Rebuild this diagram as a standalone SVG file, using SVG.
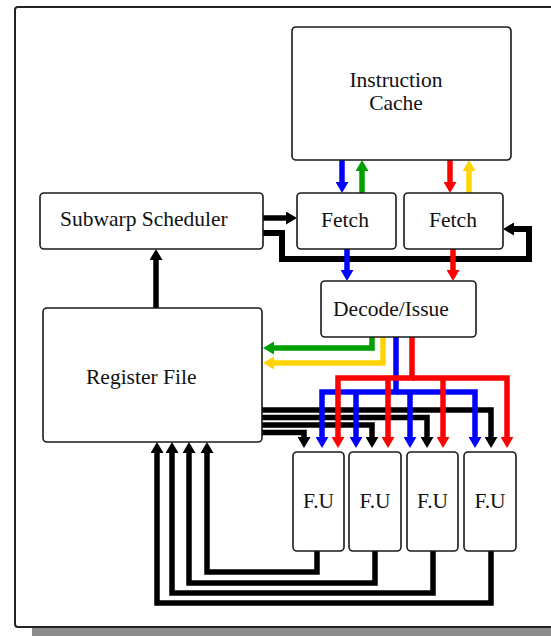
<svg xmlns="http://www.w3.org/2000/svg" width="551" height="636" viewBox="0 0 551 636">
  <style>
    .box { fill: #ffffff; stroke: #1a1a1a; stroke-width: 1.6; }
    .lbl { font-family: "Liberation Serif", "Times New Roman", serif; font-size: 21.5px; fill: #111111; }
    .mid { text-anchor: middle; }
    .w { fill: none; stroke-width: 5.5; stroke-linejoin: miter; stroke-linecap: butt; }
    .k { stroke: #000000; }
    .b { stroke: #0000ff; }
    .r { stroke: #ff0000; }
    .g { stroke: #00a000; }
    .y { stroke: #ffd400; }
  </style>
  <defs>
    <marker id="hk" viewBox="0 0 11 13" refX="0" refY="6.5" markerWidth="11" markerHeight="13" markerUnits="userSpaceOnUse" orient="auto"><path d="M0,0 L11,6.5 L0,13 z" fill="#000000"/></marker>
    <marker id="hb" viewBox="0 0 11 13" refX="0" refY="6.5" markerWidth="11" markerHeight="13" markerUnits="userSpaceOnUse" orient="auto"><path d="M0,0 L11,6.5 L0,13 z" fill="#0000ff"/></marker>
    <marker id="hr" viewBox="0 0 11 13" refX="0" refY="6.5" markerWidth="11" markerHeight="13" markerUnits="userSpaceOnUse" orient="auto"><path d="M0,0 L11,6.5 L0,13 z" fill="#ff0000"/></marker>
    <marker id="hg" viewBox="0 0 11 13" refX="0" refY="6.5" markerWidth="11" markerHeight="13" markerUnits="userSpaceOnUse" orient="auto"><path d="M0,0 L11,6.5 L0,13 z" fill="#00a000"/></marker>
    <marker id="hy" viewBox="0 0 11 13" refX="0" refY="6.5" markerWidth="11" markerHeight="13" markerUnits="userSpaceOnUse" orient="auto"><path d="M0,0 L11,6.5 L0,13 z" fill="#ffd400"/></marker>
  </defs>

  <!-- page frame with drop shadow -->
  <rect x="32" y="627" width="540" height="14" fill="#8c8c8c"/>
  <rect x="15" y="7" width="550" height="620" rx="3" fill="#ffffff" stroke="#222222" stroke-width="2"/>

  <g id="connectors">
    <!-- register file writeback from functional units -->
    <path class="w k" d="M491,551 V603 H157 V453" marker-end="url(#hk)"/>
    <path class="w k" d="M433,551 V593 H172 V453" marker-end="url(#hk)"/>
    <path class="w k" d="M375,551 V583 H189 V453" marker-end="url(#hk)"/>
    <path class="w k" d="M317,551 V572 H207 V453" marker-end="url(#hk)"/>

    <!-- register file operands to functional units -->
    <path class="w k" d="M262,410 H491 V437" marker-end="url(#hk)"/>
    <path class="w k" d="M262,417.5 H427 V437" marker-end="url(#hk)"/>
    <path class="w k" d="M262,425 H372 V437" marker-end="url(#hk)"/>
    <path class="w k" d="M262,432.5 H304 V437" marker-end="url(#hk)"/>

    <!-- scheduler paths -->
    <path class="w k" d="M156,308 V260" marker-end="url(#hk)"/>
    <path class="w k" d="M263,218 H286" marker-end="url(#hk)"/>
    <path class="w k" style="stroke-width:6" d="M263,233 H282 V259 H529 V229 H514" marker-end="url(#hk)"/>

    <!-- cache / fetch traffic -->
    <path class="w b" d="M342,160 V182" marker-end="url(#hb)"/>
    <path class="w g" d="M362,193 V171" marker-end="url(#hg)"/>
    <path class="w r" d="M450,160 V182" marker-end="url(#hr)"/>
    <path class="w y" d="M469,193 V171" marker-end="url(#hy)"/>
    <path class="w b" d="M347,249 V270" marker-end="url(#hb)"/>
    <path class="w r" d="M453,249 V270" marker-end="url(#hr)"/>

    <!-- decode results back to register file -->
    <path class="w g" d="M372,337 V348 H274" marker-end="url(#hg)"/>
    <path class="w y" d="M383,337 V363 H274" marker-end="url(#hy)"/>

    <!-- issue bus, blue -->
    <path class="w b" d="M396,337 V392 H322 V437" marker-end="url(#hb)"/>
    <path class="w b" d="M396,392 H475 V437" marker-end="url(#hb)"/>
    <path class="w b" d="M356,392 V437" marker-end="url(#hb)"/>
    <path class="w b" d="M410,392 V437" marker-end="url(#hb)"/>

    <!-- issue bus, red -->
    <path class="w r" d="M412,337 V378 H338 V437" marker-end="url(#hr)"/>
    <path class="w r" d="M412,378 H507 V437" marker-end="url(#hr)"/>
    <path class="w r" d="M388,378 V437" marker-end="url(#hr)"/>
    <path class="w r" d="M443,378 V437" marker-end="url(#hr)"/>
  </g>

  <g id="icache">
    <rect class="box" x="292" y="27" width="219" height="133" rx="4"/>
    <text class="lbl mid" x="396" y="87">Instruction</text>
    <text class="lbl mid" x="396" y="110">Cache</text>
  </g>
  <g id="scheduler">
    <rect class="box" x="40" y="193" width="223" height="56" rx="4"/>
    <text class="lbl" x="60" y="226">Subwarp Scheduler</text>
  </g>
  <g id="fetch1">
    <rect class="box" x="297" y="193" width="99" height="56" rx="4"/>
    <text class="lbl mid" x="345" y="227">Fetch</text>
  </g>
  <g id="fetch2">
    <rect class="box" x="404" y="193" width="99" height="56" rx="4"/>
    <text class="lbl mid" x="453" y="227">Fetch</text>
  </g>
  <g id="decode">
    <rect class="box" x="321" y="281" width="155" height="56" rx="4"/>
    <text class="lbl mid" x="391" y="316">Decode/Issue</text>
  </g>
  <g id="regfile">
    <rect class="box" x="43" y="308" width="219" height="134" rx="4"/>
    <text class="lbl" x="86" y="384">Register File</text>
  </g>
  <g id="fu1">
    <rect class="box" x="293" y="452" width="51" height="99" rx="4"/>
    <text class="lbl mid" x="318.5" y="508">F.U</text>
  </g>
  <g id="fu2">
    <rect class="box" x="349" y="452" width="52" height="99" rx="4"/>
    <text class="lbl mid" x="375" y="508">F.U</text>
  </g>
  <g id="fu3">
    <rect class="box" x="407" y="452" width="51" height="99" rx="4"/>
    <text class="lbl mid" x="432.5" y="508">F.U</text>
  </g>
  <g id="fu4">
    <rect class="box" x="464" y="452" width="52" height="99" rx="4"/>
    <text class="lbl mid" x="490" y="508">F.U</text>
  </g>
</svg>
